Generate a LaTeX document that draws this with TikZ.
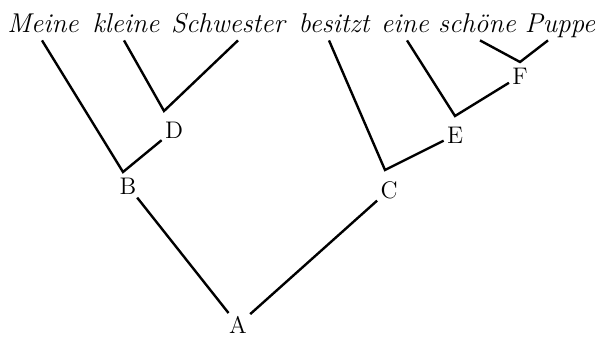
\documentclass[tikz,border=0pt]{standalone}
\usetikzlibrary{calc,positioning}
\begin{document}
\begin{tikzpicture}[x=0.5pt,y=-0.5pt,
  wort/.style={font=\itshape\fontsize{13.6}{15}\selectfont, anchor=base, text depth=3pt, inner sep=1pt},
  knoten/.style={font=\fontsize{12}{14}\selectfont, inner sep=1.5pt},
  ast/.style={line width=1.2pt}]
  \useasboundingbox (0,0) rectangle (598,338);
  % Satz
  \node[wort] (w1) at (43,32) {Meine};
  \node[wort] (w2) at (126,32) {kleine};
  \node[wort] (w3) at (228,32) {Schwester};
  \node[wort] (w4) at (334,32) {besitzt};
  \node[wort] (w5) at (405,32) {eine};
  \node[wort] (w6) at (477,32) {sch\"one};
  \node[wort] (w7) at (560,32) {Puppe};
  % Verzweigungspunkte
  \coordinate (vB) at (123,172);
  \coordinate (vC) at (385,170);
  \coordinate (vD) at (164,111);
  \coordinate (vE) at (455,116);
  \coordinate (vF) at (520,62);
  % Knotenbezeichnungen
  \node[knoten] (A) at (238,325) {A};
  \node[knoten] (B) at (128,186) {B};
  \node[knoten] (C) at (389,190) {C};
  \node[knoten] (D) at (174,130) {D};
  \node[knoten] (E) at (455,135) {E};
  \node[knoten] (F) at (520,76) {F};
  % Aeste
  \draw[ast] ($(w1.south)+(-1,0)$) -- (vB) -- (D);
  \draw[ast] ($(w2.south)+(-2,0)$) -- (vD) -- ($(w3.south)+(10,0)$);
  \draw[ast] ($(w4.south)+(-5,0)$) -- (vC) -- (E);
  \draw[ast] ($(w5.south)+(2,0)$) -- (vE) -- (F);
  \draw[ast] ($(w6.south)+(3,0)$) -- (vF) -- ($(w7.south)+(-12,0)$);
  \draw[ast] (B) -- (A) -- (C);
\end{tikzpicture}
\end{document}
